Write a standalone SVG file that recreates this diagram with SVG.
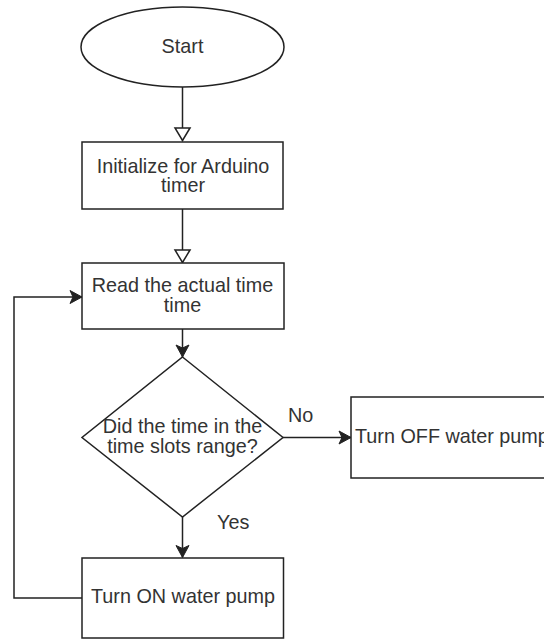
<svg xmlns="http://www.w3.org/2000/svg" width="544" height="639" viewBox="0 0 544 639">
<style>
.shape{fill:#fff;stroke:#222;stroke-width:1.5}
.conn{fill:none;stroke:#222;stroke-width:1.5}
.t{font-family:"Liberation Sans",Arial,sans-serif;font-size:19.8px;fill:#333;text-anchor:middle}
.l{text-anchor:start}
</style>
<defs>
<marker id="filled" markerUnits="userSpaceOnUse" markerWidth="14" markerHeight="14" refX="12" refY="6.5" orient="auto" overflow="visible">
<path d="M0,0 L12,6.5 L0,13 L3,6.5 Z" fill="#222" stroke="#222" stroke-width="1"/>
</marker>
<marker id="hollow" markerUnits="userSpaceOnUse" markerWidth="16" markerHeight="18" refX="13" refY="8" orient="auto" overflow="visible">
<path d="M0.5,0.5 L13,8 L0.5,15.5 Z" fill="#fff" stroke="#222" stroke-width="1.5"/>
</marker>
</defs>
<rect width="544" height="639" fill="#fff"/>
<g id="connectors">
<path class="conn" d="M182.5,87 V140.5" marker-end="url(#hollow)"/>
<path class="conn" d="M182.5,209 V262.5" marker-end="url(#hollow)"/>
<path class="conn" d="M182.5,329 V357" marker-end="url(#filled)"/>
<path class="conn" d="M283,437.5 H351" marker-end="url(#filled)"/>
<path class="conn" d="M182.5,517 V557.5" marker-end="url(#filled)"/>
<path class="conn" d="M82,598 H14 V297 H82" marker-end="url(#filled)"/>
<text class="t l" x="288" y="422">No</text>
<text class="t l" x="217" y="529">Yes</text>
</g>
<g id="start">
<ellipse class="shape" cx="182.5" cy="47" rx="101.5" ry="40"/>
<text class="t" x="182.5" y="53">Start</text>
</g>
<g id="init">
<rect class="shape" x="82" y="142" width="201" height="67"/>
<text class="t" x="183" y="173">Initialize for Arduino</text>
<text class="t" x="183" y="192">timer</text>
</g>
<g id="read">
<rect class="shape" x="82" y="263" width="202" height="66"/>
<text class="t" x="182.5" y="292">Read the actual time</text>
<text class="t" x="182.5" y="311.5">time</text>
</g>
<g id="decision">
<polygon class="shape" points="182.5,357 283,437.5 182.5,517 82,437.5"/>
<text class="t" x="182.5" y="432.5">Did the time in the</text>
<text class="t" x="182.5" y="452.5">time slots range?</text>
</g>
<g id="off">
<rect class="shape" x="351" y="397" width="200" height="81"/>
<text class="t l" x="355" y="443">Turn OFF water pump</text>
</g>
<g id="on">
<rect class="shape" x="82" y="558" width="201.5" height="80"/>
<text class="t" x="183" y="603">Turn ON water pump</text>
</g>
</svg>
